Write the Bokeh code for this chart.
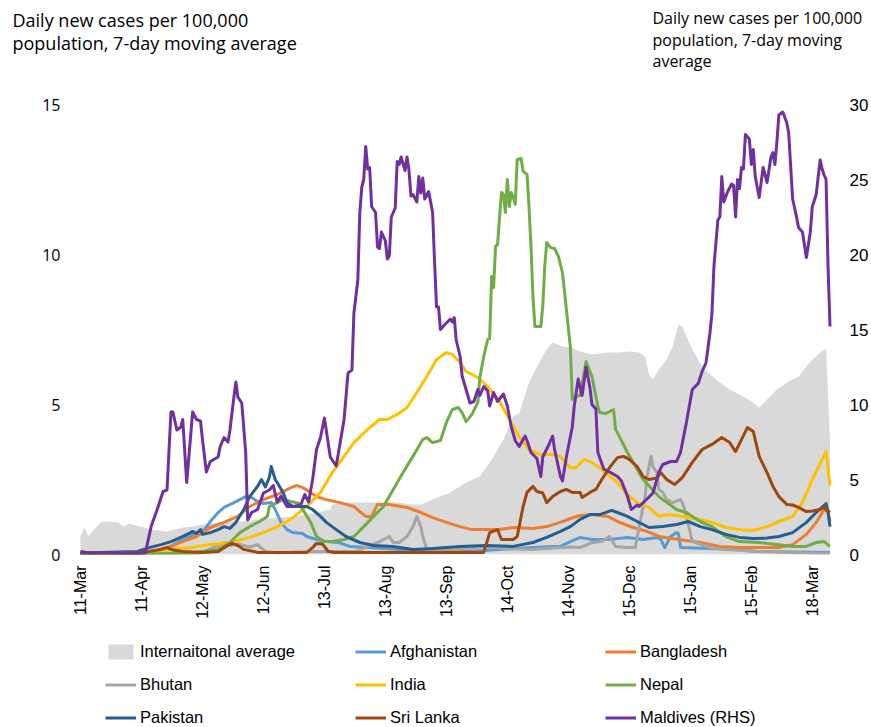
import math
from bokeh.plotting import figure
from bokeh.layouts import column
from bokeh.models import Range1d, LinearAxis, FixedTicker, Legend, LegendItem
from bokeh.core.properties import value
from bokeh.embed import file_html
from bokeh.resources import INLINE

# x values are days since 11-Mar-2020 (one category per day)
TICK_DAYS = [0, 31, 62, 93, 124, 155, 186, 217, 248, 279, 310, 341, 372]
TICK_LABELS = ["11-Mar", "11-Apr", "12-May", "12-Jun", "13-Jul", "13-Aug", "13-Sep",
               "14-Oct", "14-Nov", "15-Dec", "15-Jan", "15-Feb", "18-Mar"]

INTL_DAY = [0,2,4,10,13,19,22,25,32,36,44,52,57,62,70,76,83,90,100,110,120,127,128,137,146,154,162,168,173,179,
            188,196,203,210,215,220,223,228,232,237,240,245,249,254,260,268,274,279,284,287,289,291,294,298,301,304,
            306,308,311,316,323,330,337,342,345,349,354,360,365,371,376,379,381]
INTL_VAL = [0.6,0.9,0.6,1.07,1.1,1.07,0.93,1.03,0.9,0.83,0.77,0.9,0.93,1.0,1.07,1.1,1.1,1.17,1.23,1.27,1.4,1.5,1.67,
            1.73,1.73,1.73,1.73,1.67,1.67,1.83,2.07,2.4,2.6,3.27,3.83,4.6,4.7,5.73,6.27,6.83,7.07,6.93,6.9,6.77,6.67,
            6.73,6.73,6.77,6.73,6.6,6.0,5.83,6.17,6.5,6.93,7.67,7.6,7.27,6.83,6.27,5.83,5.5,5.27,5.07,4.9,5.17,5.5,
            5.77,5.93,6.43,6.73,6.87,3.8]

AFG_DAY = [0,25,35,46,52,63,66,70,73,78,81,84,87,90,93,97,99,102,105,108,113,115,120,125,131,137,146,162,179,196,
           213,230,240,244,249,254,260,269,278,286,293,295,297,300,303,304,305,320,335,343,381]
AFG_VAL = [0.0,0.02,0.07,0.27,0.5,0.83,1.1,1.4,1.57,1.73,1.83,1.93,1.9,1.77,1.7,1.73,1.5,1.07,0.83,0.73,0.7,0.6,0.5,
           0.43,0.4,0.27,0.23,0.17,0.1,0.1,0.17,0.23,0.27,0.27,0.43,0.57,0.5,0.5,0.57,0.5,0.57,0.5,0.23,0.6,0.73,0.7,
           0.23,0.2,0.17,0.1,0.07]

BGD_DAY = [0,25,35,46,52,59,66,73,80,86,93,100,107,110,113,117,120,125,132,139,142,145,148,151,157,166,173,179,186,
           193,199,213,220,230,237,244,249,254,260,268,274,281,288,294,304,315,325,335,355,362,369,374,378,380,381]
BGD_VAL = [0.0,0.02,0.07,0.27,0.43,0.6,0.9,1.07,1.27,1.6,1.83,2.0,2.23,2.3,2.23,2.07,1.93,1.83,1.73,1.6,1.43,1.27,
           1.27,1.67,1.67,1.57,1.4,1.23,1.07,0.93,0.83,0.83,0.9,0.87,0.93,1.07,1.2,1.3,1.33,1.27,1.07,0.9,0.77,0.6,
           0.5,0.4,0.27,0.23,0.23,0.33,0.67,1.07,1.5,1.43,1.1]

BTN_DAY = [0,60,70,73,76,80,86,90,94,100,110,125,140,152,157,159,162,166,169,171,173,174,176,190,205,215,230,244,
           249,254,260,265,269,272,278,282,284,287,288,290,291,293,294,296,298,301,305,306,308,310,311,320,328,345,
           360,381]
BTN_VAL = [0.0,0.02,0.3,0.4,0.3,0.35,0.25,0.33,0.1,0.05,0.08,0.1,0.1,0.43,0.6,0.4,0.4,0.6,0.93,1.27,0.93,0.6,0.17,
           0.15,0.27,0.2,0.17,0.23,0.25,0.23,0.4,0.43,0.6,0.27,0.23,0.23,0.93,1.93,2.6,3.27,2.93,2.73,2.17,2.07,1.83,
           1.73,1.83,1.73,1.27,0.73,0.43,0.23,0.17,0.1,0.07,0.03]

IND_DAY = [0,20,35,46,56,66,76,86,93,100,107,113,117,122,128,134,139,146,152,156,161,166,171,176,181,186,189,193,
           196,202,207,213,218,223,228,234,240,244,249,252,256,260,265,273,278,283,289,294,299,306,315,321,328,335,
           342,349,355,362,367,372,377,379,381]
IND_VAL = [0.0,0.02,0.07,0.17,0.23,0.33,0.4,0.57,0.73,0.93,1.17,1.5,1.73,2.07,2.73,3.27,3.73,4.17,4.5,4.5,4.67,4.9,
           5.4,5.93,6.5,6.73,6.67,6.4,6.1,5.9,5.6,5.1,4.5,3.93,3.5,3.33,3.33,3.27,2.9,2.9,3.17,3.07,2.83,2.4,2.0,
           1.73,1.57,1.27,1.33,1.27,1.17,1.07,0.9,0.83,0.8,0.93,1.1,1.27,1.73,2.5,3.17,3.43,2.3]

NPL_DAY = [0,30,55,70,76,81,86,91,95,96,100,103,107,111,113,117,120,124,128,134,139,144,149,154,159,164,169,174,
           176,179,183,186,189,192,194,196,199,202,203,205,207,208,209,210,211,212,214,215,216,217,218,219,220,221,
           222,224,225,227,228,229,230,231,234,235,236,237,239,241,243,245,247,249,250,252,254,257,260,263,264,267,
           271,272,274,278,281,286,294,303,308,315,321,328,335,345,362,369,374,378,381]
NPL_VAL = [0.0,0.02,0.05,0.17,0.4,0.73,0.93,1.1,1.27,1.6,1.73,1.83,1.77,1.7,1.5,1.07,0.6,0.43,0.43,0.5,0.6,0.93,
           1.27,1.6,2.17,2.73,3.27,3.83,3.9,3.73,3.8,4.4,4.83,4.9,4.73,4.43,4.67,5.07,5.9,6.6,7.17,7.2,9.27,8.9,
           10.27,10.33,12.07,12.0,11.4,12.5,11.6,12.07,11.9,11.67,13.17,13.2,12.77,12.67,11.6,10.27,8.6,7.6,7.6,
           8.27,9.6,10.4,10.23,10.2,9.93,9.4,8.17,6.93,5.17,5.27,5.3,6.43,5.93,4.93,4.73,4.7,4.83,4.17,3.93,3.4,
           3.07,2.5,1.93,1.5,1.4,1.1,0.93,0.6,0.43,0.4,0.27,0.27,0.4,0.43,0.27]

PAK_DAY = [0,20,29,35,41,46,51,56,57,59,61,62,66,70,73,76,79,83,86,90,92,94,96,97,99,100,103,105,108,115,118,122,
           125,130,135,142,149,159,169,179,193,206,220,230,237,244,249,254,259,264,270,273,278,283,289,296,303,309,
           315,321,328,335,342,349,355,362,369,374,379,380,381]
PAK_VAL = [0.05,0.08,0.1,0.23,0.33,0.43,0.57,0.73,0.77,0.7,0.83,0.67,0.73,0.83,0.93,0.87,1.07,1.5,1.93,2.27,2.5,
           2.25,2.57,2.93,2.5,2.4,2.07,1.73,1.6,1.6,1.5,1.27,1.07,0.83,0.6,0.4,0.3,0.27,0.17,0.2,0.27,0.3,0.27,0.4,
           0.57,0.77,0.93,1.17,1.33,1.33,1.47,1.4,1.27,1.1,0.9,0.93,1.0,1.1,0.93,0.83,0.67,0.57,0.53,0.55,0.6,0.73,
           1.07,1.4,1.7,1.4,0.93]

LKA_DAY = [0,30,41,44,47,52,62,70,74,77,80,83,90,115,118,120,123,126,129,205,207,208,212,214,220,222,225,227,230,
           232,235,237,240,244,247,250,254,255,259,262,265,269,271,273,276,279,283,286,289,293,295,298,302,306,311,
           316,321,326,330,333,336,339,342,345,349,352,355,359,362,365,369,372,376,378,379,381]
LKA_VAL = [0.05,0.05,0.17,0.23,0.15,0.1,0.07,0.1,0.27,0.37,0.3,0.17,0.07,0.07,0.23,0.37,0.35,0.1,0.07,0.07,0.5,
           0.73,0.83,0.5,0.5,0.6,1.6,2.07,2.27,2.1,2.05,1.73,1.93,2.1,2.17,2.07,2.07,1.9,2.07,2.17,2.5,2.9,3.07,3.23,
           3.27,3.17,2.93,2.6,2.5,2.55,2.73,2.5,2.33,2.57,3.07,3.5,3.67,3.9,3.73,3.43,3.83,4.23,4.1,3.27,2.73,2.27,
           1.93,1.67,1.65,1.57,1.43,1.45,1.5,1.57,1.5,1.4]

MDV_DAY = [0,5,15,25,33,36,39,42,44,46,47,49,51,52,54,56,57,59,61,62,64,66,70,71,73,75,76,78,79,80,82,84,85,87,90,
           93,96,98,100,102,105,108,112,114,116,118,120,122,124,127,130,134,136,138,139,141,142,143,144,145,146,147,
           148,150,151,152,153,155,156,157,158,160,161,162,163,165,166,167,168,169,171,172,173,174,175,177,179,180,
           181,182,183,185,188,189,190,191,193,194,196,198,200,202,203,205,207,208,210,212,215,217,219,221,223,226,
           227,229,232,234,235,238,240,241,244,245,247,250,251,253,255,257,259,260,262,263,266,269,273,275,278,280,
           283,284,288,291,293,294,296,300,303,305,308,311,314,316,318,320,321,322,324,325,326,327,329,331,332,333,
           334,335,336,337,338,340,341,342,343,345,347,349,351,352,353,354,355,357,359,360,362,364,365,367,369,371,
           372,374,375,376,377,378,379,380,381]
MDV_VAL = [0.2,0.1,0.1,0.05,0.1,1.9,3.0,4.2,4.3,9.5,9.5,8.3,8.5,9.0,4.8,7.9,9.5,9.0,8.9,7.7,5.5,6.2,6.5,7.2,7.8,
           7.5,8.3,10.5,11.5,10.5,10.1,6.8,2.3,2.8,3.0,4.1,4.3,4.6,3.5,3.9,3.2,3.2,3.3,4.0,3.5,5.0,7.0,7.8,9.1,6.5,
           5.9,9.0,12.1,12.3,16.1,18.3,22.8,24.5,25.0,27.2,25.7,25.8,23.2,22.8,20.5,20.4,21.5,20.9,19.7,19.9,22.5,
           23.1,26.2,26.0,26.5,25.6,26.5,25.6,23.9,24.0,23.5,25.2,24.1,25.1,23.7,24.2,22.8,19.5,16.5,16.5,15.0,15.3,
           15.7,15.5,15.8,14.3,13.2,11.9,11.0,10.1,10.2,11.0,10.6,11.2,10.9,9.9,10.8,10.2,10.7,9.9,8.5,7.6,7.2,7.9,
           7.6,6.8,6.4,5.2,6.5,7.3,7.9,7.0,5.2,4.9,6.5,8.5,9.9,11.7,10.6,12.5,11.1,10.0,9.7,6.8,5.7,5.5,5.2,4.9,3.9,
           3.0,3.3,3.2,3.7,4.1,5.0,5.5,6.0,6.2,6.2,6.8,8.8,11.0,11.4,12.2,12.8,14.8,16.1,19.2,22.3,22.5,25.2,23.5,
           24.2,24.7,24.6,22.5,25.0,24.4,25.8,25.7,28.0,27.7,26.0,27.0,25.2,23.8,25.8,24.8,26.5,26.8,26.0,27.5,29.3,
           29.5,28.8,28.1,23.7,22.5,21.8,21.5,19.8,21.5,23.2,24.0,25.2,26.3,25.7,25.3,25.0,19.2,15.2]

LEFT_TICKS = [0, 5, 10, 15]
RIGHT_TICKS = [0, 5, 10, 15, 20, 25, 30]

SERIES = [
    ("Afghanistan", AFG_DAY, AFG_VAL, "#5B9BD5"),
    ("Bangladesh", BGD_DAY, BGD_VAL, "#ED7D31"),
    ("Bhutan", BTN_DAY, BTN_VAL, "#A5A5A5"),
    ("India", IND_DAY, IND_VAL, "#FFC000"),
    ("Nepal", NPL_DAY, NPL_VAL, "#70AD47"),
    ("Pakistan", PAK_DAY, PAK_VAL, "#255E91"),
    ("Sri Lanka", LKA_DAY, LKA_VAL, "#9E480E"),
]
MDV_NAME, MDV_COLOR = "Maldives (RHS)", "#7030A0"
INTL_NAME, INTL_COLOR = "Internaitonal average", "#D9D9D9"

for _, a, b, _c in SERIES + [("m", MDV_DAY, MDV_VAL, ""), ("i", INTL_DAY, INTL_VAL, "")]:
    assert len(a) == len(b), (len(a), len(b))

W = 871
LW = 3

# ---------- header with the two axis titles ----------
HEAD_H = 94
head = figure(width=W, height=HEAD_H, output_backend="svg", toolbar_location=None,
              x_range=Range1d(0, W), y_range=Range1d(HEAD_H, 0),
              x_axis_location=None, y_axis_location=None,
              min_border=0, outline_line_color=None, frame_align=False)
head.grid.visible = False
head.text(x=[12, 12], y=[19, 42],
          text=["Daily new cases per 100,000", "population, 7-day moving average"],
          text_font=value("Open Sans"), text_font_size="18px", text_color="black",
          text_baseline="middle", text_align="left")
head.text(x=[652, 652, 652], y=[17, 39, 60],
          text=["Daily new cases per  100,000", "population, 7-day moving", "average"],
          text_font=value("Open Sans"), text_font_size="16px", text_color="black",
          text_baseline="middle", text_align="left")

# ---------- main chart ----------
MAIN_H = 527
p = figure(width=W, height=MAIN_H, output_backend="svg", toolbar_location=None,
           x_range=Range1d(-1.5, 384.3), y_range=Range1d(0, 15), frame_align=False,
           min_border_left=77, min_border_right=34, min_border_top=10, min_border_bottom=66)
p.extra_y_ranges = {"rhs": Range1d(0, 30)}
p.outline_line_color = None
p.xgrid.visible = False
p.ygrid.visible = False

xa = p.xaxis[0]
xa.ticker = FixedTicker(ticks=TICK_DAYS)
xa.major_label_overrides = {d: lab for d, lab in zip(TICK_DAYS, TICK_LABELS)}
xa.major_label_orientation = math.pi / 2
xa.axis_line_color = None
xa.major_tick_line_color = None
xa.minor_tick_line_color = None
xa.major_tick_out = 0
xa.minor_tick_out = 0
xa.major_label_standoff = 11
xa.major_label_text_font = "Liberation Sans"
xa.major_label_text_font_size = "16px"
xa.major_label_text_color = "black"

ya = p.yaxis[0]
ya.ticker = FixedTicker(ticks=LEFT_TICKS)
ya.axis_line_color = None
ya.major_tick_line_color = None
ya.minor_tick_line_color = None
ya.major_tick_out = 0
ya.minor_tick_out = 0
ya.major_label_standoff = 17
ya.major_label_text_font = "Open Sans"
ya.major_label_text_font_size = "16px"
ya.major_label_text_color = "black"

ra = LinearAxis(y_range_name="rhs", ticker=FixedTicker(ticks=RIGHT_TICKS))
ra.axis_line_color = None
ra.major_tick_line_color = None
ra.minor_tick_line_color = None
ra.major_tick_out = 0
ra.minor_tick_out = 0
ra.major_label_standoff = 13
ra.major_label_text_font = "Liberation Sans"
ra.major_label_text_font_size = "17px"
ra.major_label_text_color = "black"
p.add_layout(ra, "right")

p.varea(x=INTL_DAY, y1=0, y2=INTL_VAL, fill_color=INTL_COLOR)
for name, days, vals, col in SERIES:
    p.line(days, vals, line_color=col, line_width=LW, line_join="round")
p.line(MDV_DAY, MDV_VAL, line_color=MDV_COLOR, line_width=LW, line_join="round", y_range_name="rhs")

# ---------- legend strip ----------
LEG_H = 727 - HEAD_H - MAIN_H
leg = figure(width=W, height=LEG_H, output_backend="svg", toolbar_location=None,
             x_range=Range1d(0, 1), y_range=Range1d(0, 1),
             x_axis_location=None, y_axis_location=None,
             min_border=0, outline_line_color=None, frame_align=False)
leg.grid.visible = False
# legend proxies: styled like the chart's marks, their data lies outside this strip's ranges
OFF = [5, 6]
proxy = {INTL_NAME: leg.varea(x=OFF, y1=OFF, y2=OFF, fill_color=INTL_COLOR)}
for name, _d, _v, col in SERIES:
    proxy[name] = leg.line(x=OFF, y=OFF, line_color=col, line_width=LW)
proxy[MDV_NAME] = leg.line(x=OFF, y=OFF, line_color=MDV_COLOR, line_width=LW)

LEGEND_COLUMNS = [
    [INTL_NAME, "Bhutan", "Pakistan"],
    ["Afghanistan", "India", "Sri Lanka"],
    ["Bangladesh", "Nepal", MDV_NAME],
]
COL_X = [105, 355, 605]
for cx, names in zip(COL_X, LEGEND_COLUMNS):
    lg = Legend(items=[LegendItem(label=n, renderers=[proxy[n]]) for n in names],
                location=(cx, 0), orientation="vertical", padding=0, margin=0,
                spacing=14, glyph_width=31, glyph_height=19, label_height=19,
                label_standoff=4, border_line_color=None, background_fill_alpha=0,
                label_text_font="Liberation Sans", label_text_font_size="16.5px",
                label_text_color="black")
    leg.add_layout(lg, "center")

layout = column(head, p, leg, spacing=0)
open("out.html", "w").write(file_html(layout, INLINE))
